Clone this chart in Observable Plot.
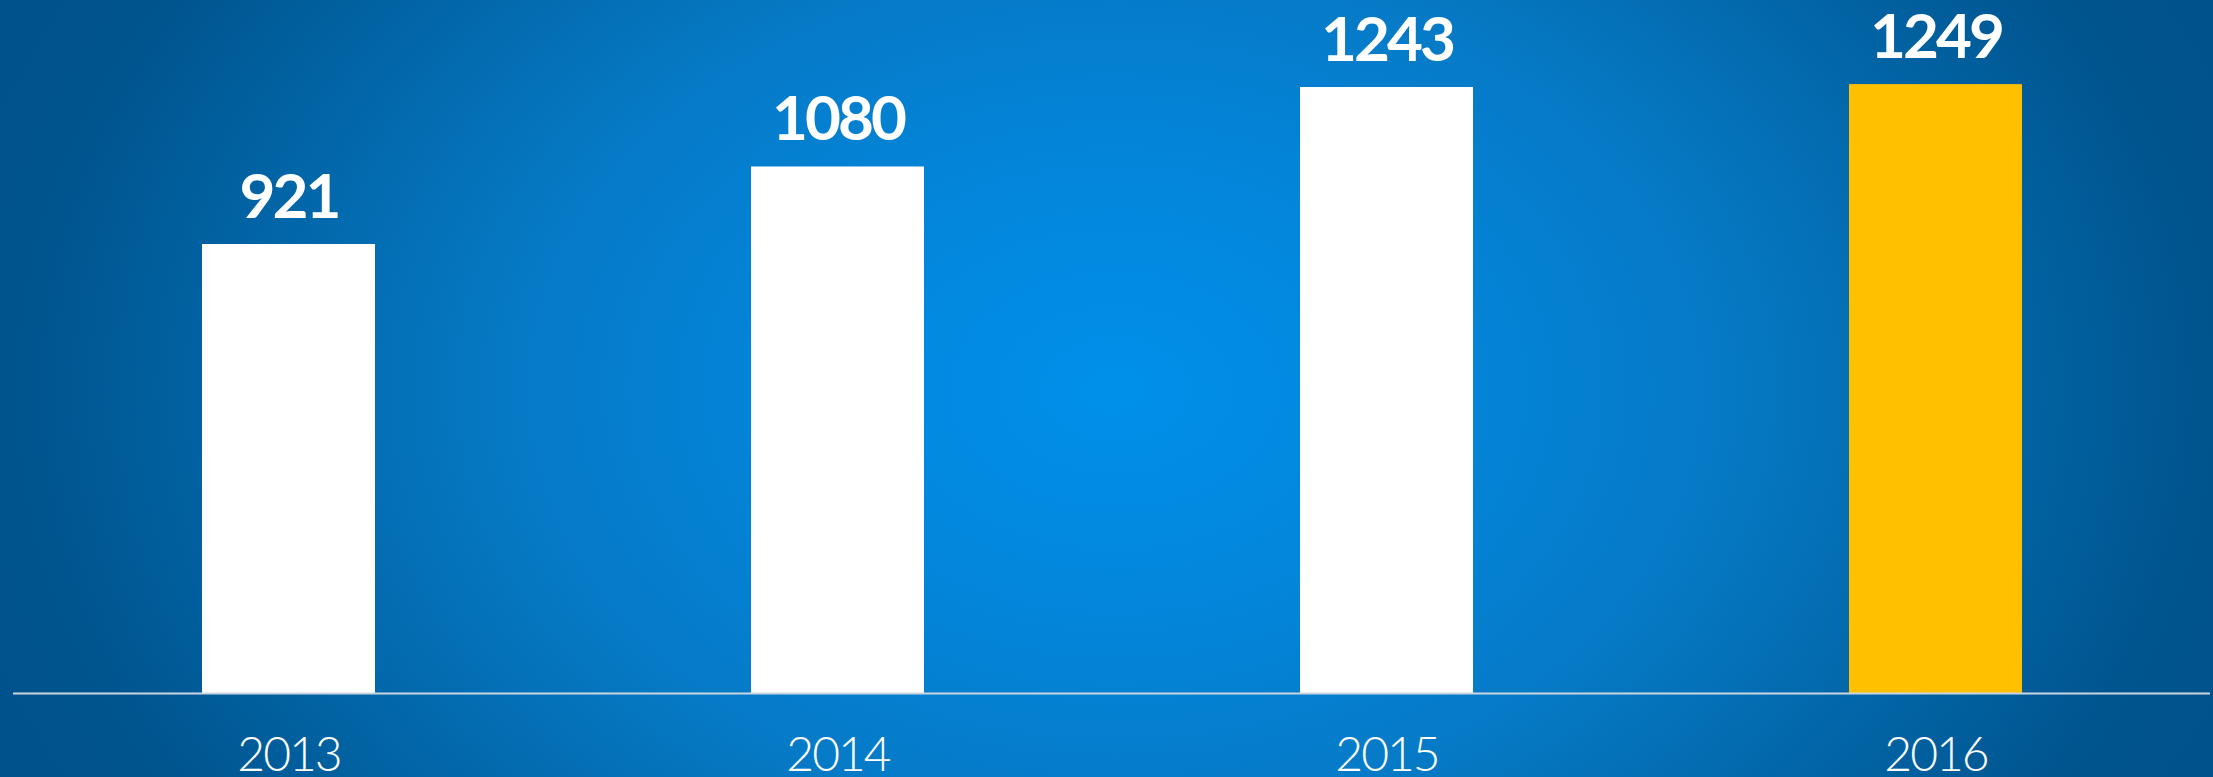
<!DOCTYPE html>
<html>
<head>
<meta charset="utf-8">
<script src="https://cdn.jsdelivr.net/npm/d3@7"></script>
<script src="https://cdn.jsdelivr.net/npm/@observablehq/plot@0.6"></script>
<style>
  html, body { margin: 0; padding: 0; overflow: hidden; }
  body {
    width: 2213px; height: 777px;
    background: radial-gradient(ellipse 1200px 860px at 1115px 390px,
      #0090ea 0%, #0386dc 25%, #067ac6 50%, #0266a8 72%, #00558f 90%, #00528c 100%);
  }
  #chart svg { display: block; }
</style>
</head>
<body>
<div id="chart"></div>
<script>
const years = ["2013", "2014", "2015", "2016"];
const values = [921, 1080, 1243, 1249];
const barColors = ["#ffffff", "#ffffff", "#ffffff", "#ffc000"];

const data = years.map((year, i) => ({year, value: values[i], color: barColors[i]}));

const chart = Plot.plot({
  width: 2213,
  height: 777,
  marginLeft: 13,
  marginRight: 3,
  marginTop: 0,
  marginBottom: 84,
  style: {background: "transparent", color: "white", overflow: "visible"},
  x: {domain: years, paddingInner: 0.685, paddingOuter: 0.3425, axis: null},
  y: {domain: [0, 1421.5], axis: null},
  marks: [
    Plot.barY(data, {x: "year", y: "value", fill: "color"}),
    Plot.ruleY([0], {stroke: "#c9d6e2", strokeWidth: 2}),
    Plot.text(data, {
      x: "year", y: "value", text: d => String(d.value),
      dy: -27, lineAnchor: "bottom",
      fill: "white", fontSize: 62, fontWeight: 700,
      fontFamily: "Lato, 'Open Sans', sans-serif"
    }),
    Plot.axisX({
      tickSize: 0, tickPadding: 43,
      fontSize: 48, fontWeight: 300,
      fontFamily: "Lato, 'Open Sans', sans-serif",
      fill: "white", label: null
    })
  ]
});

d3.select(chart).selectAll("text").filter(function() {
  return this.textContent.length && +this.textContent > 900;
}).attr("letter-spacing", "-3px");
d3.select(chart).selectAll("[aria-label='x-axis tick label'] text").attr("letter-spacing", "-2px");

document.getElementById("chart").appendChild(chart);
</script>
</body>
</html>
